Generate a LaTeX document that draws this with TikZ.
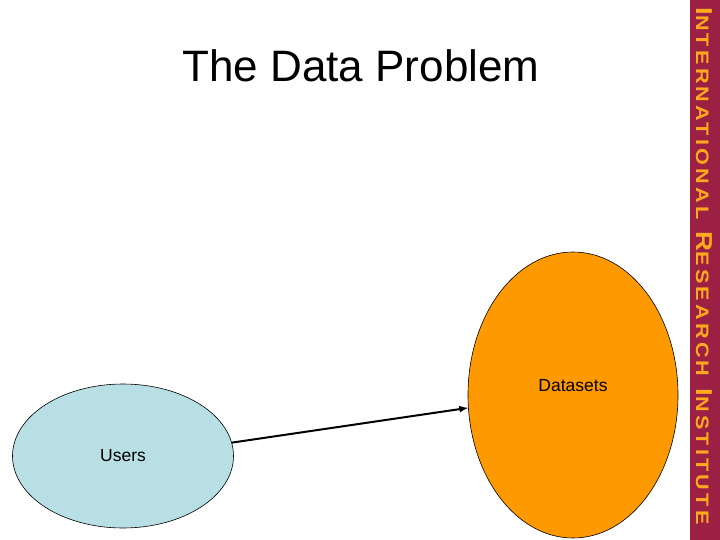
\documentclass[tikz,border=0pt]{standalone}
\usepackage{fontspec}
\setmainfont{Liberation Sans}
\newfontfamily\bandfont[LetterSpace=18,FakeStretch=1.2]{Liberation Sans Bold}
\definecolor{usersblue}{RGB}{184,223,228}
\definecolor{dataorange}{RGB}{255,153,0}
\definecolor{bandmaroon}{RGB}{155,32,68}
\definecolor{bandgold}{RGB}{255,170,30}
\usepackage{tikz}
\usetikzlibrary{shapes,arrows,positioning,calc}
\newcommand{\bandbig}[1]{{\fontsize{23}{23}\selectfont #1}}
\newcommand{\bandsmall}[1]{{\fontsize{18}{18}\selectfont #1}}

\begin{document}
\begin{tikzpicture}[x=1pt,y=-1pt,
    blob/.style={ellipse, draw=black, line width=0.6pt, inner sep=0pt, font=\fontsize{17.5}{20}\selectfont}]
    \useasboundingbox (0,0) rectangle (720,540);
    \fill[white] (0,0) rectangle (720,540);
    % side band
    \fill[bandmaroon] (690,0) rectangle (720,540);
    \node[rotate=-90, text=bandgold, inner sep=0pt] (irilogo) at (704,266)
        {\bandfont\bandbig{I}\bandsmall{NTERNATIONAL}\hspace{12pt}\bandbig{R}\bandsmall{ESEARCH}\hspace{12pt}\bandbig{I}\bandsmall{NSTITUTE}};
    % title
    \node[anchor=base, inner sep=0pt, font=\fontsize{44}{50}\selectfont] (title) at (361,82) {The Data Problem};
    % the two groups
    \node[blob, fill=usersblue, minimum width=221pt, minimum height=144pt] (users) at (123,456) {Users};
    \node[blob, fill=dataorange, minimum width=210pt, minimum height=286pt,
        label={[font=\fontsize{17.5}{20}\selectfont, yshift=9pt]center:Datasets}] (datasets) at (573,395) {};
    \draw[-latex, line width=2pt] (users.7) -- (datasets.187);
\end{tikzpicture}
\end{document}
